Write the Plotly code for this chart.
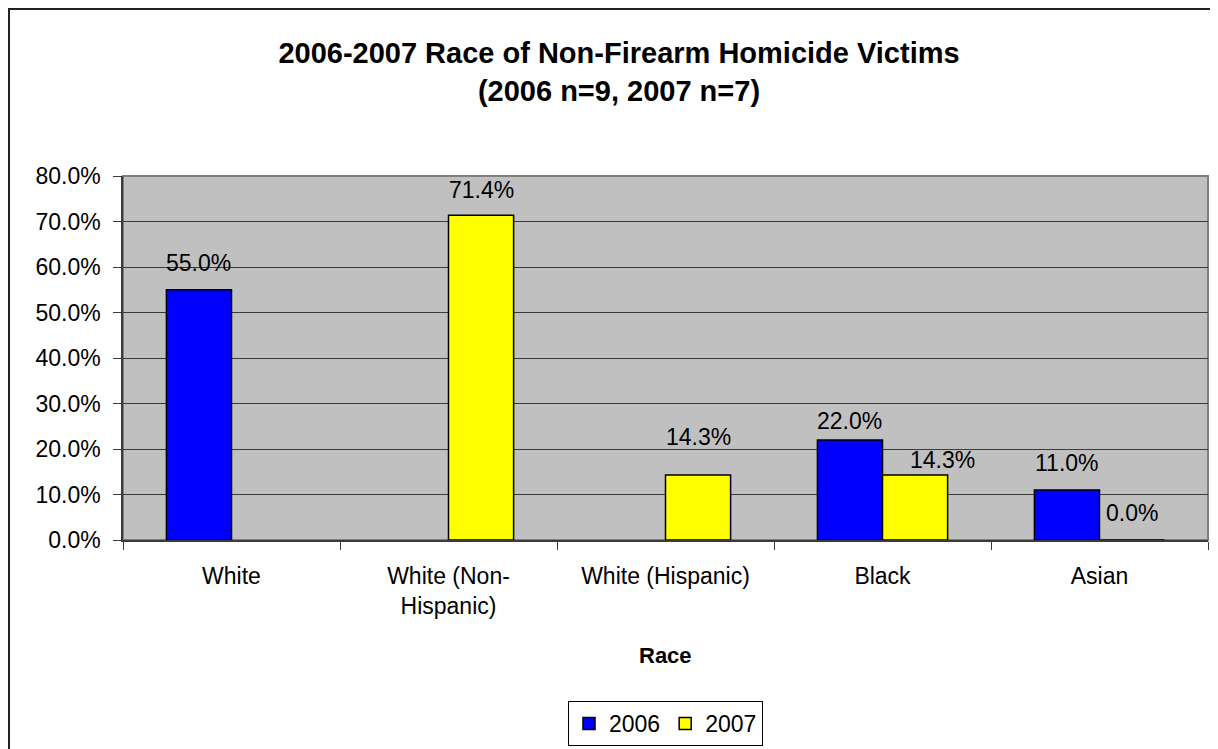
import plotly.graph_objects as go

# Data
races = ["White", "White (Non-<br>Hispanic)", "White (Hispanic)", "Black", "Asian"]
pct_2006 = [0.55, None, None, 0.22, 0.11]
pct_2007 = [None, 0.714, 0.143, 0.143, 0.0]
years = ["2006", "2007"]

# label nudges (px), Excel had a couple of labels moved by hand
dy_2006 = [27, 0, 0, 19, 27]
dy_2007 = [0, 25, 38, 15, 27]
dx_2007 = [0, 0, 0, 27, 0]

FONT = "Liberation Sans, Arial, sans-serif"
# page body adds an 8px margin, so the figure is 8px smaller than the window
W, H = 1210, 741
L, R, T, B = 115, 10, 168, 209   # plot area 115..1200 x 168..532
PW, PH = W - L - R, H - T - B

fig = go.Figure()
fig.add_trace(go.Bar(x=races, y=pct_2006, name=years[0],
                     marker=dict(color="#0000FF", line=dict(color="black", width=1.5))))
fig.add_trace(go.Bar(x=races, y=pct_2007, name=years[1],
                     marker=dict(color="#FFFF00", line=dict(color="black", width=1.5))))

cat_w = PW / len(races)
half = cat_w * 0.6 / 4

annotations = []
for i, r in enumerate(races):
    if pct_2006[i] is not None:
        annotations.append(dict(x=r, y=pct_2006[i], xref="x", yref="y", text=f"{pct_2006[i]*100:.1f}%",
                                showarrow=False, xshift=-half, yshift=dy_2006[i], yanchor="middle",
                                font=dict(size=23, color="black", family=FONT)))
    if pct_2007[i] is not None:
        annotations.append(dict(x=r, y=pct_2007[i], xref="x", yref="y", text=f"{pct_2007[i]*100:.1f}%",
                                showarrow=False, xshift=half + dx_2007[i], yshift=dy_2007[i], yanchor="middle",
                                font=dict(size=23, color="black", family=FONT)))

# axis title
annotations.append(dict(x=0.5, y=(532 - 647) / PH, xref="paper", yref="paper", text="<b>Race</b>",
                        showarrow=False, yanchor="middle", font=dict(size=22, color="black", family=FONT)))

shapes = [
    # plot area border (top/right grey)
    dict(type="rect", xref="paper", yref="paper", x0=0, x1=1, y0=0, y1=1,
         line=dict(color="#808080", width=2), layer="below"),
    # outer chart border
    dict(type="rect", xref="paper", yref="paper",
         x0=(1 - L) / PW, x1=(1230 - L) / PW,
         y0=(532 - 770) / PH, y1=(532 - 1) / PH,
         line=dict(color="#222222", width=2)),
]

fig.update_layout(
    width=W, height=H,
    margin=dict(l=L, r=R, t=T, b=B, autoexpand=False),
    paper_bgcolor="white", plot_bgcolor="#C0C0C0",
    barmode="group", bargap=0.4, bargroupgap=0,
    font=dict(family=FONT, size=23, color="black"),
    title=dict(text="<b>2006-2007 Race of Non-Firearm Homicide Victims<br>(2006 n=9, 2007 n=7)</b>",
               xref="container", yref="container", x=611 / W, y=1 - 55 / H,
               xanchor="center", yanchor="middle",
               font=dict(size=29, color="black", family=FONT)),
    legend=dict(orientation="h", x=0.5, xanchor="center", yref="container", y=1 - 693 / H, yanchor="top",
                bordercolor="black", borderwidth=1, bgcolor="white",
                font=dict(size=23, color="black", family=FONT),
                itemwidth=30, tracegroupgap=0),
    showlegend=True,
    annotations=annotations,
    shapes=shapes,
)

fig.update_yaxes(range=[0, 0.8], dtick=0.1, tickformat=".1%",
                 showgrid=True, gridcolor="#3a3a3a", gridwidth=1,
                 showline=True, linecolor="#3a3a3a", linewidth=1.5,
                 ticks="outside", ticklen=8, tickcolor="#3a3a3a",
                 ticklabelstandoff=8, zeroline=False, automargin=False,
                 tickfont=dict(size=23, family=FONT, color="black"))
fig.update_xaxes(showgrid=False, showline=True, linecolor="#3a3a3a", linewidth=1.5,
                 ticks="outside", ticklen=8, tickcolor="#3a3a3a", tickson="boundaries",
                 ticklabelstandoff=15, automargin=False,
                 tickfont=dict(size=23, family=FONT, color="black"))

fig.write_html("out.html")
